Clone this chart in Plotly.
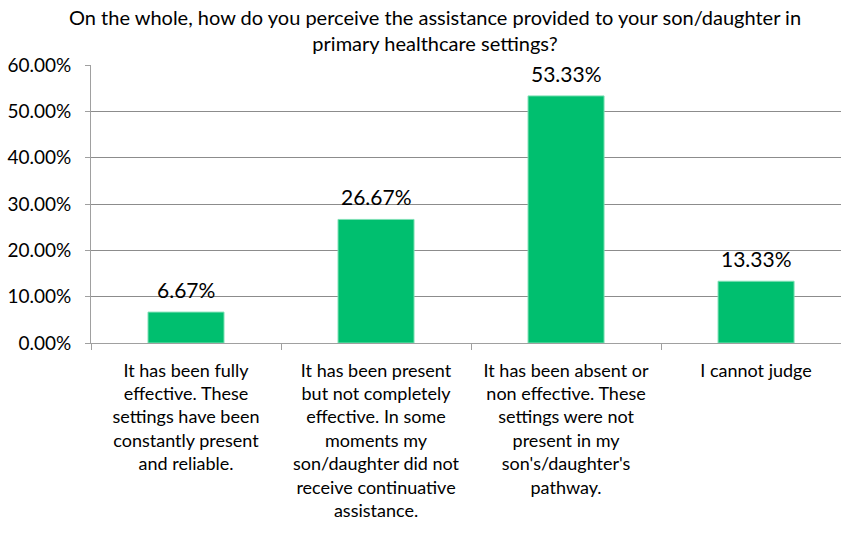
import plotly.graph_objects as go

categories = [
    "It has been fully<br>effective. These<br>settings have been<br>constantly present<br>and reliable.",
    "It has been present<br>but not completely<br>effective. In some<br>moments my<br>son/daughter did not<br>receive continuative<br>assistance.",
    "It has been absent or<br>non effective. These<br>settings were not<br>present in my<br>son's/daughter's<br>pathway.",
    "I cannot judge",
]
values = [0.0667, 0.2667, 0.5333, 0.1333]
labels = ["6.67%", "26.67%", "53.33%", "13.33%"]
title = "On the whole, how do you perceive the assistance provided to your son/daughter in<br>primary healthcare settings?"

FONT = "Lato, Open Sans, sans-serif"

fig = go.Figure(go.Bar(
    x=categories, y=values,
    marker=dict(color="#00BF6F", line=dict(color="#7FE0B5", width=1)),
    cliponaxis=False,
))
annotations = [dict(
    text=title, xref="paper", yref="paper", x=0.459, y=1.222,
    xanchor="center", yanchor="top", showarrow=False, align="center",
    font=dict(size=20, color="#000", family=FONT),
)]
for c, v, t in zip(categories, values, labels):
    annotations.append(dict(
        x=c, y=v, text=t, xref="x", yref="y", showarrow=False,
        xanchor="center", yanchor="bottom", yshift=8,
        font=dict(size=21, color="#000", family=FONT),
    ))
fig.update_layout(
    width=841, height=539,
    margin=dict(l=91, r=0, t=65, b=196, autoexpand=False),
    paper_bgcolor="white", plot_bgcolor="white",
    bargap=0.6, showlegend=False,
    font=dict(family=FONT, size=18, color="#000"),
    annotations=annotations,
)
fig.update_xaxes(
    type="category", range=[-0.5, 3.447], tickson="boundaries",
    ticks="outside", ticklen=6, tickcolor="#a0a0a0",
    showline=True, linecolor="#a0a0a0", linewidth=1,
    tickfont=dict(size=18, color="#000", family=FONT),
    showgrid=False, automargin=False, ticklabelstandoff=11,
)
fig.update_yaxes(
    range=[0, 0.6], dtick=0.1, tickformat=".2%",
    ticks="outside", ticklen=5, tickcolor="#a0a0a0",
    showline=True, linecolor="#a0a0a0", linewidth=1,
    showgrid=True, gridcolor="#8c8c8c", gridwidth=1,
    tickfont=dict(size=19, color="#000", family=FONT),
    zeroline=False, automargin=False, ticklabelstandoff=10,
)
fig.write_html(
    "out.html",
    config={"displayModeBar": False},
    post_script="document.body.style.margin='0';document.body.style.overflow='hidden';",
)
